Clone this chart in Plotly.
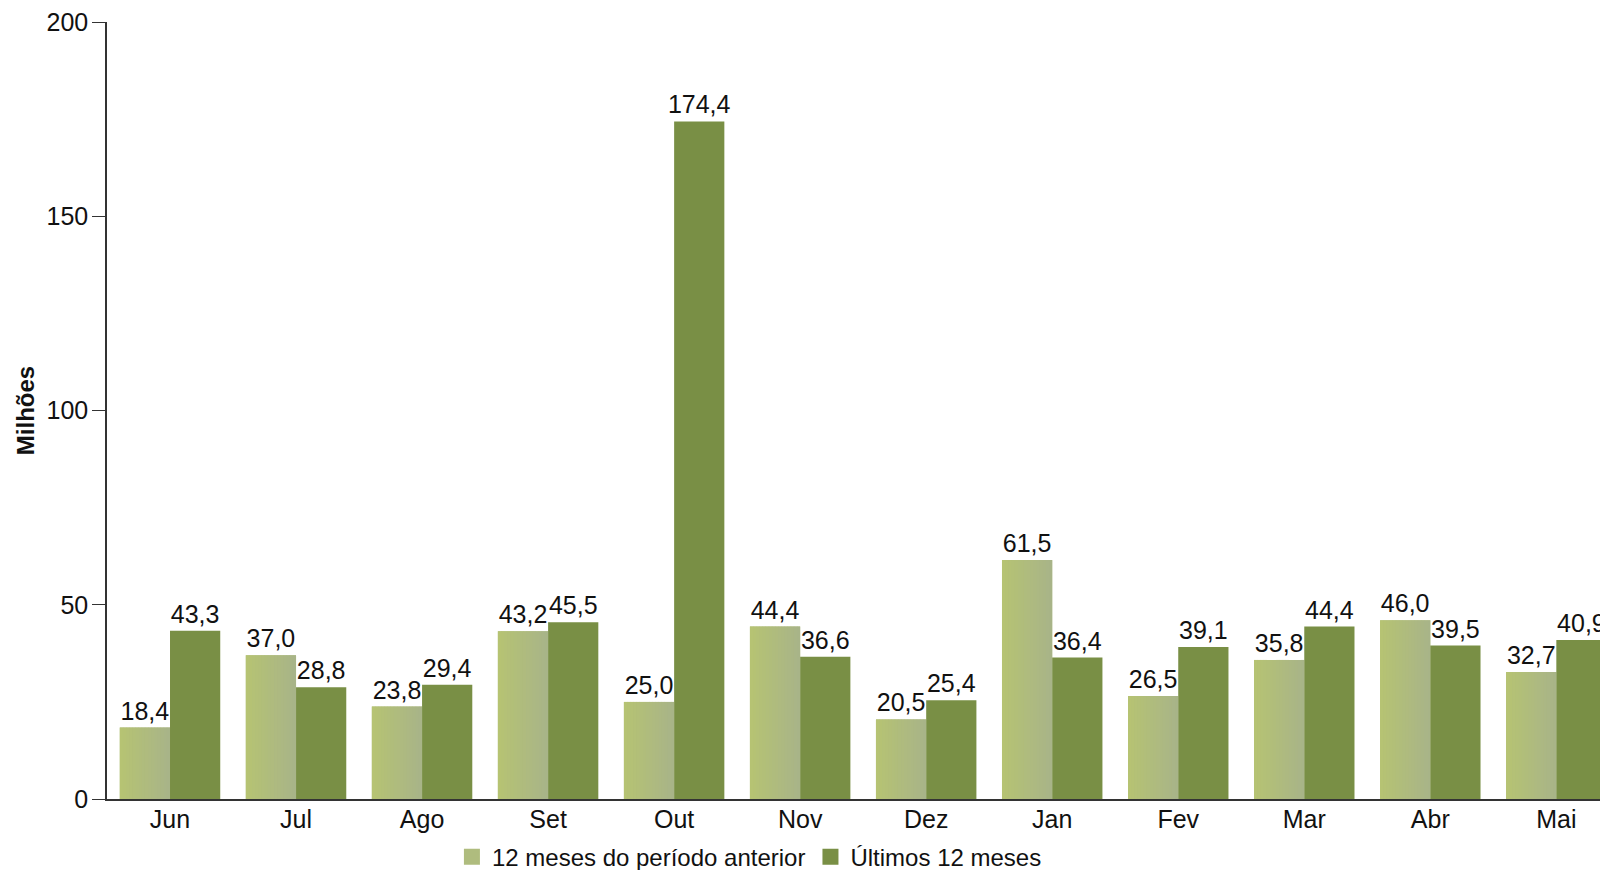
import plotly.graph_objects as go

months = ["Jun", "Jul", "Ago", "Set", "Out", "Nov", "Dez", "Jan", "Fev", "Mar", "Abr", "Mai"]
anterior = [18.4, 37.0, 23.8, 43.2, 25.0, 44.4, 20.5, 61.5, 26.5, 35.8, 46.0, 32.7]
ultimos = [43.3, 28.8, 29.4, 45.5, 174.4, 36.6, 25.4, 36.4, 39.1, 44.4, 39.5, 40.9]

FONT = "Liberation Sans, Arial, sans-serif"
LIGHT_L = (182, 195, 114)
LIGHT_R = (168, 180, 137)
DARK = "#798f45"
W = 0.3985  # width of one bar in category units
N = 16      # slices used to fake the horizontal gradient


def mix(t):
    c = [round(a + (b - a) * t) for a, b in zip(LIGHT_L, LIGHT_R)]
    return "rgb(%d,%d,%d)" % tuple(c)


fig = go.Figure()

# light bars: base + gradient slices
fig.add_trace(go.Bar(x=months, y=anterior, offset=-W, width=W, marker=dict(color=mix(0.5), line=dict(width=0)),
                     showlegend=False, hoverinfo="skip"))
for k in range(N):
    fig.add_trace(go.Bar(
        x=months, y=anterior, offset=-W + k * W / N,
        width=W / N + (0.003 if k < N - 1 else 0),
        marker=dict(color=mix((k + 0.5) / N), line=dict(width=0)),
        showlegend=False, hoverinfo="skip",
    ))

fig.add_trace(go.Bar(
    x=months, y=ultimos, offset=0, width=W, name="Últimos 12 meses",
    marker=dict(color=DARK, line=dict(width=0)),
    texttemplate="%{y:.1f}", textposition="outside", cliponaxis=False, constraintext="none",
    textfont=dict(size=25, color="#111111"), showlegend=False,
))
# labels for the light bars, drawn last
fig.add_trace(go.Bar(
    x=months, y=anterior, offset=-W, width=W,
    marker=dict(color="rgba(0,0,0,0)", line=dict(width=0)),
    texttemplate="%{y:.1f}", textposition="outside", cliponaxis=False, constraintext="none",
    textfont=dict(size=25, color="#111111"), showlegend=False, hoverinfo="skip",
))

# legend entries
fig.add_trace(go.Scatter(x=[None], y=[None], mode="markers", name="12 meses do período anterior",
                         marker=dict(symbol="square", size=16, color=mix(0.5))))
fig.add_trace(go.Scatter(x=[None], y=[None], mode="markers", name="Últimos 12 meses",
                         marker=dict(symbol="square", size=16, color=DARK)))

# page body has an 8px margin, so the figure is 8px smaller and margins shifted
fig.update_layout(
    width=1600, height=862,
    margin=dict(l=99, r=0, t=14, b=0, autoexpand=False),
    paper_bgcolor="white", plot_bgcolor="white",
    font=dict(family=FONT, size=25, color="#111111"),
    separators=",.",
    barmode="overlay",
    legend=dict(orientation="h", x=0.428, xanchor="center", y=0.0153, yanchor="middle",
                font=dict(size=24), traceorder="normal", itemwidth=30, bgcolor="rgba(0,0,0,0)"),
)
fig.update_xaxes(
    range=[-0.5, 11.41], showline=True, linecolor="#333333", linewidth=1.5,
    ticks="", showgrid=False, tickfont=dict(size=25), automargin=False, ticklabelstandoff=-3,
)
fig.update_yaxes(
    domain=[0.0837, 1], range=[0, 200], tickvals=[0, 50, 100, 150, 200], showline=True,
    linecolor="#333333", linewidth=1.5, ticks="outside", ticklen=13,
    tickcolor="#333333", showgrid=False, zeroline=False, tickfont=dict(size=25),
    automargin=False, ticklabelstandoff=-1, ticklabeloverflow="allow",
    title=dict(text="<b>Milhões</b>", font=dict(size=24), standoff=5),
)

fig.write_html("out.html")
